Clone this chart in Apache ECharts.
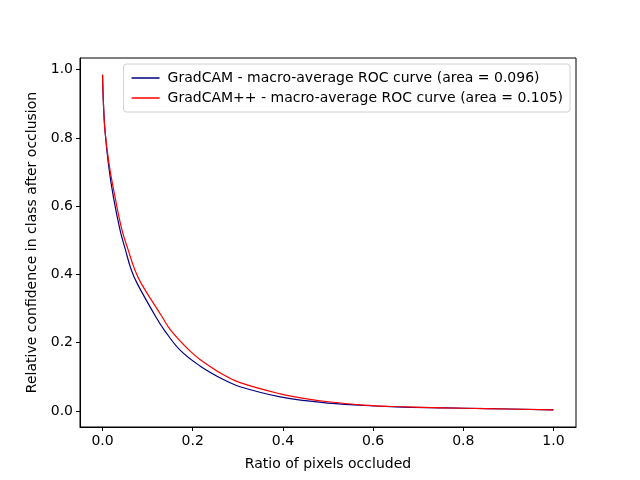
<!DOCTYPE html>
<html>
<head>
<meta charset="utf-8">
<script src="https://cdn.jsdelivr.net/npm/echarts@6/dist/echarts.min.js"></script>
<style>
  html, body { margin: 0; padding: 0; background: #fff; }
  #main { width: 640px; height: 480px; }
</style>
</head>
<body>
<div id="main"></div>
<script>
// values
var gradcamX = [0, 0.002, 0.0055, 0.013, 0.024, 0.039, 0.051, 0.064, 0.077, 0.118, 0.137, 0.172, 0.216, 0.268, 0.305, 0.394, 0.45, 0.5, 0.58, 0.65, 0.76, 0.85, 1.0];
var gradcamY = [0.985, 0.90, 0.82, 0.724, 0.627, 0.529, 0.471, 0.412, 0.373, 0.276, 0.237, 0.178, 0.132, 0.092, 0.071, 0.041, 0.030, 0.023, 0.016, 0.012, 0.009, 0.007, 0.003];

var gradcamppX = [0, 0.002, 0.0055, 0.0144, 0.0277, 0.0433, 0.057, 0.072, 0.086, 0.132, 0.151, 0.192, 0.216, 0.268, 0.305, 0.394, 0.45, 0.5, 0.58, 0.65, 0.76, 0.85, 1.0];
var gradcamppY = [0.985, 0.90, 0.82, 0.724, 0.627, 0.529, 0.471, 0.412, 0.373, 0.276, 0.237, 0.178, 0.151, 0.106, 0.083, 0.050, 0.036, 0.027, 0.017, 0.013, 0.009, 0.007, 0.003];

var xTicks = [0, 0.2, 0.4, 0.6, 0.8, 1.0];
var yTicks = [0, 0.2, 0.4, 0.6, 0.8, 1.0];

var seriesNames = [
    'GradCAM - macro-average ROC curve (area = 0.096)',
    'GradCAM++ - macro-average ROC curve (area = 0.105)'
];

function pairs(xs, ys) {
    return xs.map(function (x, i) { return [x, ys[i]]; });
}

var chart = echarts.init(document.getElementById('main'));

var font = 'DejaVu Sans';

var option = {
    animation: false,
    backgroundColor: '#fff',
    textStyle: { fontFamily: font },
    grid: {
        left: 80, right: 64, top: 58, bottom: 53,
        show: true,
        borderColor: '#000',
        borderWidth: 1,
        containLabel: false
    },
    legend: {
        orient: 'vertical',
        right: 70,
        top: 64,
        padding: [7, 7, 7, 8],
        itemGap: 6,
        itemWidth: 28,
        itemHeight: 1.5,
        icon: 'rect',
        borderColor: '#d0d0d0',
        borderWidth: 1,
        borderRadius: 3,
        backgroundColor: 'rgba(255,255,255,0.8)',
        textStyle: { fontFamily: font, fontSize: 14, color: '#000', padding: [0, 0, 0, 3] },
        data: seriesNames
    },
    xAxis: {
        type: 'value',
        min: -0.05,
        max: 1.05,
        name: 'Ratio of pixels occluded',
        nameLocation: 'middle',
        nameGap: 30,
        nameTextStyle: { fontFamily: font, fontSize: 14, color: '#000' },
        axisLine: { show: true, onZero: false, lineStyle: { color: '#000', width: 1 } },
        axisTick: { show: true, inside: false, length: 4, customValues: xTicks, lineStyle: { color: '#000' } },
        axisLabel: {
            customValues: xTicks,
            fontFamily: font, fontSize: 14, color: '#000', margin: 7,
            formatter: function (v) { return v.toFixed(1); }
        },
        splitLine: { show: false }
    },
    yAxis: {
        type: 'value',
        min: -0.047,
        max: 1.034,
        name: 'Relative confidence in class after occlusion',
        nameLocation: 'middle',
        nameGap: 39,
        nameTextStyle: { fontFamily: font, fontSize: 14, color: '#000' },
        axisLine: { show: true, onZero: false, lineStyle: { color: '#000', width: 1 } },
        axisTick: { show: true, inside: false, length: 4, customValues: yTicks, lineStyle: { color: '#000' } },
        axisLabel: {
            customValues: yTicks,
            fontFamily: font, fontSize: 14, color: '#000', margin: 7,
            formatter: function (v) { return v.toFixed(1); }
        },
        splitLine: { show: false }
    },
    series: [
        {
            name: seriesNames[0],
            type: 'line',
            data: pairs(gradcamX, gradcamY),
            showSymbol: false,
            smooth: 0.4,
            lineStyle: { color: '#000080', width: 1.2 },
            itemStyle: { color: '#000080' }
        },
        {
            name: seriesNames[1],
            type: 'line',
            data: pairs(gradcamppX, gradcamppY),
            showSymbol: false,
            smooth: 0.4,
            lineStyle: { color: '#ff0000', width: 1.2 },
            itemStyle: { color: '#ff0000' }
        }
    ]
};

chart.setOption(option);
</script>
</body>
</html>
